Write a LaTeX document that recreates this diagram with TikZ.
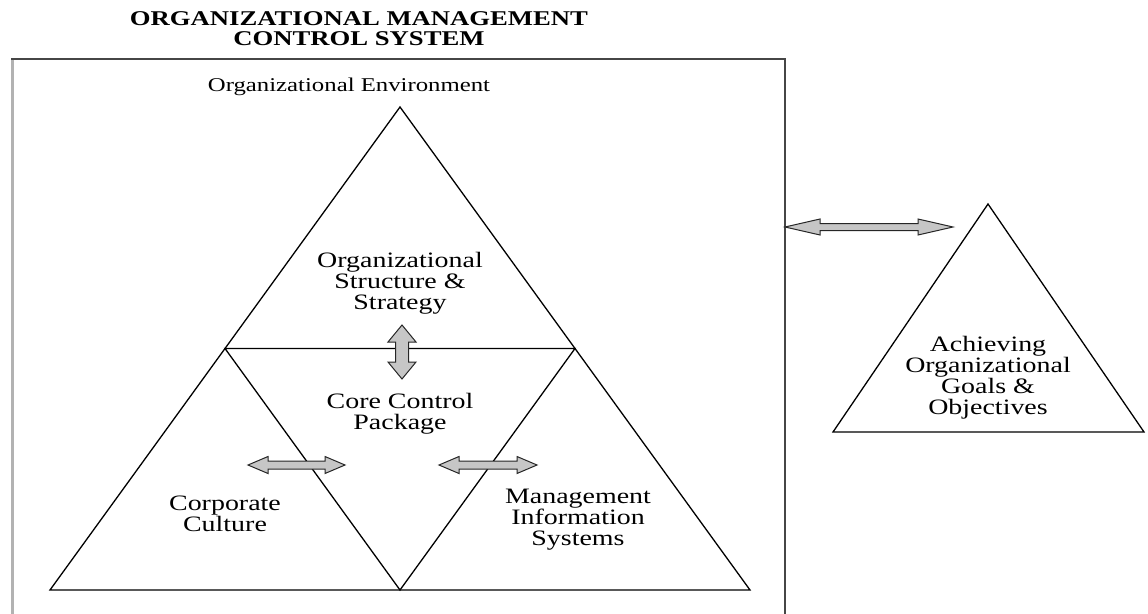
\documentclass[tikz,border=0pt]{standalone}
\usepackage{fontspec}
\setmainfont[FakeStretch=1.27]{Liberation Serif}
\usetikzlibrary{calc}
\tikzset{%
  % Styles for the texts, the triangles and the frame
       partlabel/.style = {align=center, inner sep=0pt,
                           font=\fontsize{22}{21}\selectfont},
        headline/.style = {align=center, inner sep=0pt,
                           font=\fontsize{21}{20}\selectfont\bfseries},
         triedge/.style = {draw=black, line width=1.3pt, line join=miter},
        framebox/.style = {draw=gray!55!black, line width=2pt},
       arrowfill/.style = {draw=black!85, fill=gray!45, line width=1pt,
                           line join=miter},
  % block arrow with two heads: half length, head length, head half width, shaft half width
  pics/blockarrow/.style n args={4}{code={
    \draw[arrowfill] (-#1,0) -- ({-#1+#2},#3) -- ({-#1+#2},#4) -- ({#1-#2},#4)
      -- ({#1-#2},#3) -- (#1,0) -- ({#1-#2},-#3) -- ({#1-#2},-#4)
      -- ({-#1+#2},-#4) -- ({-#1+#2},-#3) -- cycle;
  }},
}

\begin{document}
\begin{tikzpicture}[x=1pt, y=-1pt]
  \useasboundingbox (0,0) rectangle (1148,613);
  % Title and frame
  \node (title) [headline] at (359,29) {ORGANIZATIONAL MANAGEMENT\\CONTROL SYSTEM};
  \draw[framebox] (12,620) |- (785,59) -- (785,620);
  \draw[gray!60, line width=3.5pt] (12.5,60) -- (12.5,620);
  \node (environment) [partlabel, font=\fontsize{19.5}{20}\selectfont] at (349,87)
    {Organizational Environment};
  % Corners of the big triangle and of the inner one
  \coordinate (apex) at (400,107);
  \coordinate (baseL) at (50,590);
  \coordinate (baseR) at (750,590);
  \coordinate (midL) at ($(apex)!0.5!(baseL)$);
  \coordinate (midR) at ($(apex)!0.5!(baseR)$);
  \coordinate (baseM) at ($(baseL)!0.5!(baseR)$);
  \draw[triedge] (apex) -- (baseL) -- (baseR) -- cycle;
  \draw[triedge] (midL) -- (midR) -- (baseM) -- cycle;
  % Triangle on the right
  \coordinate (goalApex) at (988,204);
  \coordinate (goalL) at (833,432);
  \coordinate (goalR) at (1144,432);
  \draw[triedge] (goalApex) -- (goalL) -- (goalR) -- cycle;
  % Texts of the parts
  \node (structure) [partlabel] at (400,283) {Organizational\\Structure \&\\Strategy};
  \node (core) [partlabel] at (400,414) {Core Control\\Package};
  \node (culture) [partlabel] at (225,514) {Corporate\\Culture};
  \node (mis) [partlabel] at (578,520) {Management\\Information\\Systems};
  \node (goals) [partlabel] at (988,378) {Achieving\\Organizational\\Goals \&\\Objectives};
  % Double arrows between the parts
  \coordinate (frameR) at (785,227);
  \coordinate (goalTip) at (953,227);
  \pic at ($(frameR)!0.5!(goalTip)$) {blockarrow={84}{35}{8}{3.5}};
  \pic[rotate=90] at (402,352) {blockarrow={27}{17}{14}{6.5}};
  \pic at (296.5,465) {blockarrow={48.5}{20}{8.5}{4}};
  \pic at (488,465) {blockarrow={49}{20}{8.5}{4}};
\end{tikzpicture}
\end{document}
